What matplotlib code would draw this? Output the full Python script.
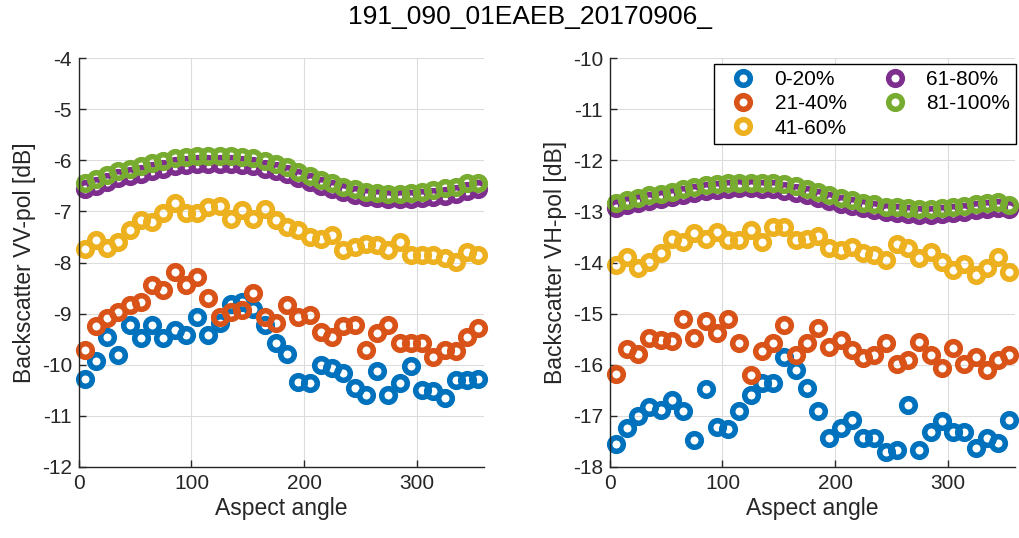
import matplotlib
matplotlib.use("Agg")
import matplotlib.pyplot as plt
import numpy as np

plt.rcParams['font.family'] = ['Liberation Sans', 'DejaVu Sans']
plt.rcParams['axes.unicode_minus'] = False

title = "191_090_01EAEB_20170906_"
labels = ["0-20%", "21-40%", "41-60%", "61-80%", "81-100%"]
colors = ["#0072BD", "#D95319", "#EDB120", "#7E2F8E", "#77AC30"]

# aspect angle bins (centres, 10 deg wide)
aspect = np.arange(5, 360, 10)

# VV backscatter per coverage class
vv_0_20 = [-10.28, -9.93, -9.45, -9.81, -9.23, -9.48, -9.23, -9.48, -9.32, -9.42,
           -9.06, -9.42, -9.19, -8.82, -8.77, -8.90, -9.22, -9.58, -9.79, -10.34,
           -10.36, -10.00, -10.07, -10.17, -10.46, -10.59, -10.13, -10.59, -10.36, -10.02,
           -10.49, -10.52, -10.66, -10.30, -10.30, -10.28]
vv_21_40 = [-9.71, -9.25, -9.09, -8.96, -8.83, -8.77, -8.43, -8.54, -8.18, -8.44,
            -8.28, -8.70, -9.06, -8.96, -8.93, -8.60, -9.06, -9.19, -8.83, -9.06,
            -9.03, -9.35, -9.45, -9.25, -9.22, -9.71, -9.38, -9.22, -9.58, -9.58,
            -9.58, -9.84, -9.71, -9.74, -9.45, -9.29]
vv_41_60 = [-7.74, -7.56, -7.72, -7.59, -7.36, -7.16, -7.20, -7.04, -6.83, -7.04,
            -7.04, -6.91, -6.90, -7.14, -6.97, -7.14, -6.96, -7.17, -7.30, -7.36,
            -7.50, -7.53, -7.46, -7.76, -7.69, -7.63, -7.66, -7.76, -7.59, -7.85,
            -7.85, -7.85, -7.92, -7.98, -7.79, -7.85]
vv_61_80 = [-6.57, -6.50, -6.42, -6.35, -6.30, -6.26, -6.20, -6.16, -6.12, -6.10,
            -6.08, -6.07, -6.07, -6.08, -6.09, -6.12, -6.16, -6.21, -6.27, -6.34,
            -6.42, -6.50, -6.56, -6.62, -6.67, -6.72, -6.74, -6.75, -6.76, -6.76,
            -6.74, -6.72, -6.69, -6.65, -6.60, -6.57]
vv_81_100 = [-6.45, -6.37, -6.29, -6.20, -6.16, -6.12, -6.06, -6.01, -5.96, -5.93,
             -5.92, -5.92, -5.92, -5.92, -5.93, -5.96, -6.01, -6.07, -6.14, -6.22,
             -6.31, -6.39, -6.45, -6.52, -6.57, -6.61, -6.63, -6.65, -6.65, -6.63,
             -6.61, -6.58, -6.55, -6.52, -6.45, -6.44]

# VH backscatter per coverage class
vh_0_20 = [-17.55, -17.24, -17.00, -16.83, -16.89, -16.69, -16.90, -17.48, -16.47, -17.22,
           -17.26, -16.90, -16.59, -16.36, -16.36, -15.84, -16.11, -16.46, -16.90, -17.44,
           -17.24, -17.08, -17.44, -17.44, -17.70, -17.67, -16.79, -17.67, -17.31, -17.11,
           -17.31, -17.31, -17.63, -17.44, -17.54, -17.08]
vh_21_40 = [-16.18, -15.70, -15.79, -15.48, -15.51, -15.53, -15.11, -15.48, -15.14, -15.38,
            -15.11, -15.58, -16.20, -15.74, -15.58, -15.22, -15.81, -15.58, -15.29, -15.65,
            -15.51, -15.71, -15.87, -15.81, -15.58, -15.98, -15.91, -15.55, -15.81, -16.07,
            -15.68, -15.98, -15.84, -16.10, -15.91, -15.81]
vh_41_60 = [-14.05, -13.89, -14.11, -13.98, -13.82, -13.53, -13.59, -13.43, -13.53, -13.40,
            -13.56, -13.56, -13.36, -13.59, -13.30, -13.30, -13.56, -13.53, -13.49, -13.72,
            -13.76, -13.69, -13.82, -13.85, -13.95, -13.63, -13.72, -13.92, -13.79, -13.98,
            -14.15, -14.02, -14.24, -14.11, -13.89, -14.18]
vh_61_80 = [-12.93, -12.88, -12.84, -12.80, -12.76, -12.72, -12.68, -12.64, -12.60, -12.58,
            -12.56, -12.55, -12.55, -12.56, -12.57, -12.60, -12.63, -12.68, -12.74, -12.80,
            -12.85, -12.90, -12.94, -12.98, -13.01, -13.03, -13.05, -13.06, -13.06, -13.05,
            -13.03, -13.01, -12.98, -12.96, -12.94, -12.95]
vh_81_100 = [-12.83, -12.77, -12.73, -12.68, -12.65, -12.61, -12.57, -12.52, -12.48, -12.46,
             -12.45, -12.44, -12.44, -12.44, -12.45, -12.46, -12.50, -12.57, -12.61, -12.68,
             -12.73, -12.78, -12.83, -12.86, -12.91, -12.92, -12.94, -12.96, -12.96, -12.94,
             -12.92, -12.90, -12.86, -12.83, -12.81, -12.88]

vv_series = [vv_0_20, vv_21_40, vv_41_60, vv_61_80, vv_81_100]
vh_series = [vh_0_20, vh_21_40, vh_41_60, vh_61_80, vh_81_100]

fig = plt.figure(figsize=(10.19, 5.38), dpi=100)
ax1 = fig.add_axes([0.0775, 0.132, 0.3975, 0.760])
ax2 = fig.add_axes([0.5986, 0.132, 0.3975, 0.760])

dark = "#262626"

def style_axes(ax, ylim, ylabel):
    ax.set_xlim(0, 360)
    ax.set_ylim(*ylim)
    ax.set_xticks([0, 100, 200, 300])
    ax.set_yticks(np.arange(ylim[0], ylim[1] + 1, 1))
    ax.grid(True, color="#dcdcdc", linewidth=0.8)
    ax.set_axisbelow(True)
    for side in ["top", "right"]:
        ax.spines[side].set_visible(False)
    for side in ["left", "bottom"]:
        ax.spines[side].set_color(dark)
        ax.spines[side].set_linewidth(1.0)
    ax.tick_params(direction="in", length=5, width=1.0, colors=dark,
                   labelsize=15, pad=5)
    ax.set_xlabel("Aspect angle", fontsize=16.5, color=dark, labelpad=3)
    ax.set_ylabel(ylabel, fontsize=16.5, color=dark, labelpad=4)

for ax, series in [(ax1, vv_series), (ax2, vh_series)]:
    for vals, col, lab in zip(series, colors, labels):
        ax.plot(aspect, vals, linestyle="none", marker="o", markersize=9.8,
                markeredgewidth=4.0, markerfacecolor="none",
                markeredgecolor=col, label=lab, clip_on=False)

style_axes(ax1, (-12, -4), "Backscatter VV-pol [dB]")
style_axes(ax2, (-18, -10), "Backscatter VH-pol [dB]")

# legend box pinned just under the top of the right panel
leg = ax2.legend(ncol=2, loc="upper right", fontsize=15, frameon=True,
                 fancybox=False, edgecolor="black", framealpha=1,
                 bbox_to_anchor=(1016 / 1019, 1 - 64 / 538),
                 bbox_transform=fig.transFigure, borderaxespad=0,
                 handletextpad=0.4, columnspacing=1.2,
                 labelspacing=0.25, borderpad=0.3, handlelength=2.2)
leg.get_frame().set_linewidth(1.0)

fig.suptitle(title, fontsize=19, x=0.52, y=0.99)

fig.savefig("out.png", dpi=100)
